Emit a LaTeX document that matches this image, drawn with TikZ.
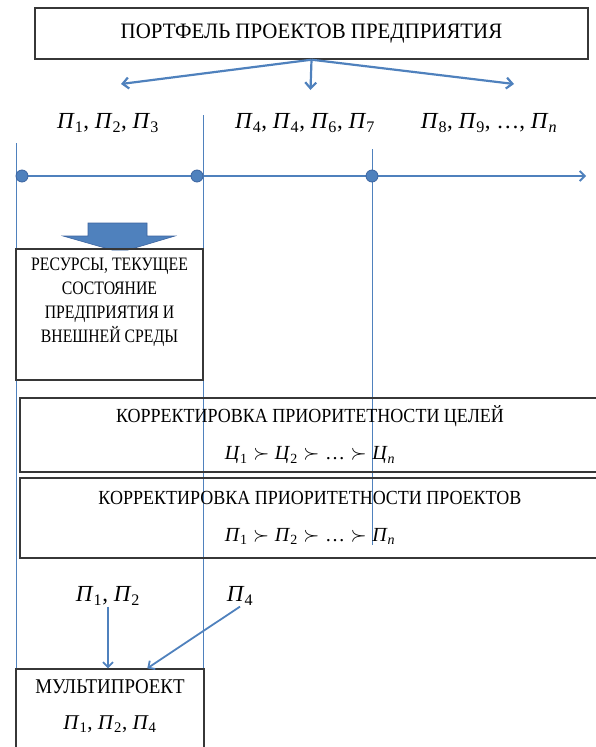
\documentclass[tikz,border=0pt]{standalone}
\usepackage{fontspec}
\setmainfont{Liberation Serif}
\newfontfamily\titlefont[FakeStretch=0.95]{Liberation Serif}
\newfontfamily\boxfont[FakeStretch=0.9]{Liberation Serif}
\newfontfamily\narrowfont[FakeStretch=0.83]{Liberation Serif}
\usetikzlibrary{positioning,arrows.meta,calc}
\definecolor{wordblue}{RGB}{79,129,189}
\definecolor{wordline}{RGB}{60,100,160}
\definecolor{boxgray}{RGB}{55,55,55}
\newcommand{\prj}[1]{\textit{П}\textsubscript{#1}}
\newcommand{\goal}[1]{\textit{Ц}\textsubscript{#1}}
\newcommand{\pref}{\;$\succ$\;}
\tikzset{
  frame/.style={draw=boxgray, line width=1.4pt, inner sep=0pt},
  boxtxt/.style={font=\boxfont\fontsize{20}{24}\selectfont, align=center, inner sep=0pt},
  plabel/.style={font=\fontsize{23}{27}\selectfont, inner sep=1pt},
  branch/.style={-{Straight Barb[length=6pt,width=11pt]}, line width=2.2pt, wordblue},
  pick/.style={-{Straight Barb[length=5pt,width=10pt]}, line width=1.8pt, wordblue},
  axis/.style={-{Straight Barb[length=5pt,width=10pt]}, line width=1.8pt, wordblue},
  sep/.style={line width=0.8pt, wordblue},
  dot/.style={circle, fill=wordblue, draw=wordline, line width=0.8pt, minimum size=12pt, inner sep=0pt},
  blockarrow/.style={fill=wordblue, draw=wordline, line width=0.6pt}
}

\begin{document}
\begin{tikzpicture}[x=1pt,y=-1pt]
\useasboundingbox (0,0) rectangle (596,747);
\node[frame, minimum width=553pt, minimum height=51pt, font=\titlefont\fontsize{22}{26}\selectfont] (title) at (311.5,33.5) {ПОРТФЕЛЬ ПРОЕКТОВ ПРЕДПРИЯТИЯ};
\coordinate (bl) at (121,84);
\coordinate (bm) at (310.5,90);
\coordinate (br) at (514,84);
\draw[branch] (title.south) -- (bl);
\draw[branch] (title.south) -- (bm);
\draw[branch] (title.south) -- (br);
\node[plabel] (g1) at (108,123) {\prj{1}, \prj{2}, \prj{3}};
\node[plabel] (g2) at (305,123) {\prj{4}, \prj{4}, \prj{6}, \prj{7}};
\node[plabel] (g3) at (489,123) {\prj{8}, \prj{9}, \ldots, \prj{\textit{n}}};
% stage borders
\draw[sep] (16,143) -- (16,760);
\draw[sep] (203,115) -- (203,669);
\draw[sep] (372,149) -- (372,545);
% time axis
\coordinate (t0) at (22,176);
\coordinate (tend) at (586,176);
\draw[axis] (t0) -- (tend);
\node[dot] (d1) at (t0) {};
\node[dot] (d2) at (197,176) {};
\node[dot] (d3) at (372,176) {};
\fill[blockarrow] (88,223) -- (147,223) -- (147,236) -- (175,236) -- (128,250) -- (112,250) -- (63,236) -- (88,236) -- cycle;
\node[frame, minimum width=187pt, minimum height=131pt] (res) at (109.5,314.5) {};
\node[boxtxt, font=\narrowfont\fontsize{19}{24}\selectfont, below=9pt of res.north] (restxt) {РЕСУРСЫ, ТЕКУЩЕЕ\\СОСТОЯНИЕ\\ПРЕДПРИЯТИЯ И\\ВНЕШНЕЙ СРЕДЫ};
\node[frame, boxtxt, minimum width=580pt, minimum height=74pt] (goals) at (310,435) {КОРРЕКТИРОВКА ПРИОРИТЕТНОСТИ ЦЕЛЕЙ\\[13pt]{\rmfamily\fontsize{20}{22}\selectfont\goal{1}\pref\goal{2}\pref\ldots\pref\goal{\textit{n}}}};
\node[frame, boxtxt, minimum width=580pt, minimum height=80pt] (prjs) at (310,518) {КОРРЕКТИРОВКА ПРИОРИТЕТНОСТИ ПРОЕКТОВ\\[13pt]{\rmfamily\fontsize{20}{22}\selectfont\prj{1}\pref\prj{2}\pref\ldots\pref\prj{\textit{n}}}};
\node[plabel] (sel) at (108,596) {\prj{1}, \prj{2}};
\node[plabel] (add) at (240,596) {\prj{4}};
\node[frame, minimum width=188pt, minimum height=100pt] (multi) at (110,719) {};
\node[boxtxt, font=\boxfont\fontsize{21}{36}\selectfont, below=11pt of multi.north] (multitxt) {МУЛЬТИПРОЕКТ\\{\rmfamily\fontsize{21}{24}\selectfont\prj{1}, \prj{2}, \prj{4}}};
\coordinate (mtgt) at ($(multi.north west)+(132,0)$);
\draw[pick] (sel.south) -- (sel.south |- multi.north);
\draw[pick] (add.south) -- (mtgt);
\end{tikzpicture}
\end{document}
